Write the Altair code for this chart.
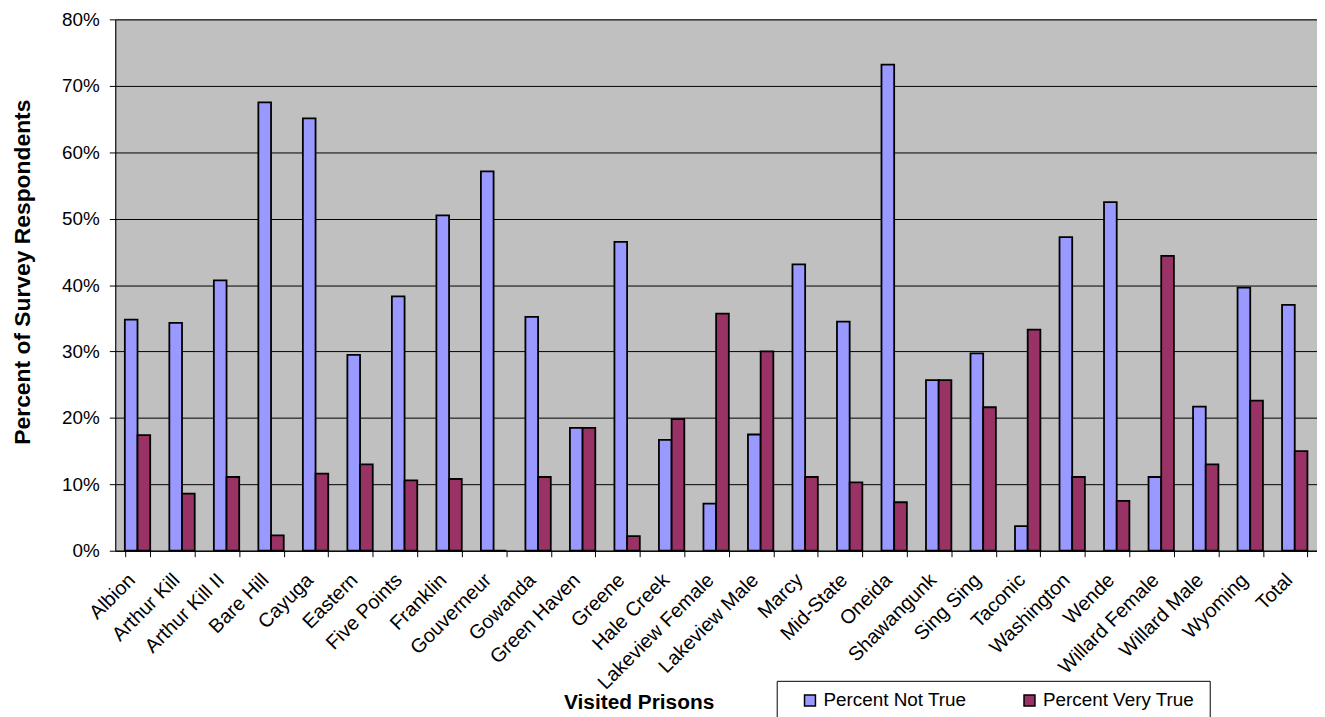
import altair as alt
import pandas as pd

prisons = ["Albion", "Arthur Kill", "Arthur Kill II", "Bare Hill", "Cayuga", "Eastern",
           "Five Points", "Franklin", "Gouverneur", "Gowanda", "Green Haven", "Greene",
           "Hale Creek", "Lakeview Female", "Lakeview Male", "Marcy", "Mid-State", "Oneida",
           "Shawangunk", "Sing Sing", "Taconic", "Washington", "Wende", "Willard Female",
           "Willard Male", "Wyoming", "Total"]
not_true = [34.8, 34.3, 40.7, 67.5, 65.1, 29.5, 38.3, 50.5, 57.1, 35.2, 18.5, 46.5,
            16.7, 7.1, 17.5, 43.1, 34.5, 73.2, 25.7, 29.7, 3.7, 47.2, 52.5, 11.1,
            21.7, 39.6, 37.0]
very_true = [17.4, 8.6, 11.1, 2.3, 11.6, 13.0, 10.6, 10.8, 0.0, 11.1, 18.5, 2.2,
             19.8, 35.7, 30.0, 11.1, 10.3, 7.3, 25.7, 21.6, 33.3, 11.1, 7.5, 44.4,
             13.0, 22.6, 15.0]
series = ["Percent Not True", "Percent  Very True"]
colors = ["#9999FF", "#993366"]
y_ticks = [0, 0.1, 0.2, 0.3, 0.4, 0.5, 0.6, 0.7, 0.8]

rows = []
for p, a, b in zip(prisons, not_true, very_true):
    rows.append({"Prison": p, "Series": series[0], "Value": a / 100})
    rows.append({"Prison": p, "Series": series[1], "Value": b / 100})
df = pd.DataFrame(rows)

FONT = "Liberation Sans"

chart = alt.Chart(df).mark_bar(stroke="black", strokeWidth=1.8).encode(
    x=alt.X("Prison:N", sort=prisons,
            scale=alt.Scale(paddingInner=0.43, paddingOuter=0.215),
            axis=alt.Axis(title="Visited Prisons", labelAngle=-45, tickBand="extent",
                          labelOverlap=False, labelFontSize=20, labelColor="black",
                          labelFont=FONT, labelPadding=13, labelOffset=-13,
                          tickColor="black", tickSize=6, domainColor="black",
                          titleFont=FONT, titleFontSize=21, titleFontWeight="bold",
                          titleColor="black", titleX=527, titleY=153,
                          titleAlign="center", titleBaseline="middle")),
    xOffset=alt.XOffset("Series:N", sort=series),
    y=alt.Y("Value:Q", scale=alt.Scale(domain=[0, 0.8], nice=False),
            axis=alt.Axis(values=y_ticks, format=".0%", title="Percent of Survey Respondents",
                          labelFontSize=19, labelColor="black", labelFont=FONT,
                          labelPadding=10, tickColor="black", tickSize=6,
                          domainColor="black", gridColor="black", gridWidth=1,
                          titleFont=FONT, titleFontSize=23, titleFontWeight="bold",
                          titleColor="black", titleX=-93, titleY=254,
                          titleAlign="center", titleBaseline="middle", titleAngle=270)),
    color=alt.Color("Series:N", scale=alt.Scale(domain=series, range=colors),
                    legend=alt.Legend(title=None, orient="none", legendX=666, legendY=666,
                                      direction="horizontal", columns=2, columnPadding=40,
                                      symbolType="square", symbolSize=121,
                                      symbolStrokeColor="black", symbolStrokeWidth=1.5,
                                      symbolOffset=14, labelFontSize=19, labelFont=FONT,
                                      labelColor="black", labelOffset=4,
                                      strokeColor="black", fillColor="white",
                                      padding=10, cornerRadius=0)),
).properties(
    width=1210, height=535,
    autosize=alt.AutoSizeParams(type="none"),
    padding={"left": 108, "top": 9, "right": 0, "bottom": 170},
    background="white",
).configure_view(
    fill="#C0C0C0", stroke="#808080", strokeWidth=1
)

chart.save("out.html", embed_options={"renderer": "svg", "actions": False})
